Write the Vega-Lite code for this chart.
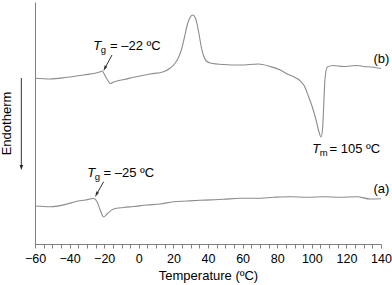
{
  "$schema": "https://vega.github.io/schema/vega-lite/v6.json",
  "width": 346,
  "height": 242,
  "autosize": {"type": "none"},
  "padding": {"left": 35, "top": 2, "right": 11, "bottom": 41},
  "config": {"view": {"stroke": null}, "font": "Liberation Sans", "axis": {"grid": false}},
  "resolve": {"axis": {"x": "independent", "y": "independent"}},
  "datasets": {
    "curves": [
      {"curve": "b", "T": -60, "v": 165.7}, {"curve": "b", "T": -51.2, "v": 165}, {"curve": "b", "T": -41.5, "v": 166.7},
      {"curve": "b", "T": -31.9, "v": 169}, {"curve": "b", "T": -22.3, "v": 172.3}, {"curve": "b", "T": -21.3, "v": 173},
      {"curve": "b", "T": -19.4, "v": 168}, {"curve": "b", "T": -17.9, "v": 163.5}, {"curve": "b", "T": -16.5, "v": 160.5},
      {"curve": "b", "T": -14.6, "v": 162}, {"curve": "b", "T": -12.6, "v": 163}, {"curve": "b", "T": -8.5, "v": 164.5},
      {"curve": "b", "T": -3, "v": 166.7}, {"curve": "b", "T": 6.6, "v": 170}, {"curve": "b", "T": 14.3, "v": 172.3},
      {"curve": "b", "T": 18.2, "v": 176}, {"curve": "b", "T": 21.1, "v": 181}, {"curve": "b", "T": 22.8, "v": 186},
      {"curve": "b", "T": 24.6, "v": 194}, {"curve": "b", "T": 26.3, "v": 206}, {"curve": "b", "T": 28, "v": 219},
      {"curve": "b", "T": 29.8, "v": 227}, {"curve": "b", "T": 31.2, "v": 229}, {"curve": "b", "T": 32.7, "v": 226},
      {"curve": "b", "T": 33.8, "v": 219}, {"curve": "b", "T": 35, "v": 208}, {"curve": "b", "T": 36.1, "v": 197},
      {"curve": "b", "T": 37.3, "v": 189}, {"curve": "b", "T": 39, "v": 183}, {"curve": "b", "T": 41.3, "v": 181},
      {"curve": "b", "T": 48.8, "v": 179.5}, {"curve": "b", "T": 58.7, "v": 179}, {"curve": "b", "T": 69.1, "v": 180},
      {"curve": "b", "T": 76, "v": 177.5}, {"curve": "b", "T": 81.8, "v": 174}, {"curve": "b", "T": 85.8, "v": 170},
      {"curve": "b", "T": 89.3, "v": 167.5}, {"curve": "b", "T": 92.8, "v": 164}, {"curve": "b", "T": 95.7, "v": 158},
      {"curve": "b", "T": 98, "v": 148}, {"curve": "b", "T": 100.3, "v": 137}, {"curve": "b", "T": 102.3, "v": 125},
      {"curve": "b", "T": 104, "v": 113}, {"curve": "b", "T": 105.3, "v": 107}, {"curve": "b", "T": 106.2, "v": 115},
      {"curve": "b", "T": 106.9, "v": 139}, {"curve": "b", "T": 107.5, "v": 162}, {"curve": "b", "T": 108.1, "v": 172},
      {"curve": "b", "T": 109, "v": 177}, {"curve": "b", "T": 112.4, "v": 178.5}, {"curve": "b", "T": 118.2, "v": 177.5},
      {"curve": "b", "T": 122.3, "v": 178}, {"curve": "b", "T": 126.3, "v": 178.5}, {"curve": "b", "T": 129.8, "v": 177.5},
      {"curve": "b", "T": 133.8, "v": 177}, {"curve": "b", "T": 136.7, "v": 176.5}, {"curve": "b", "T": 140, "v": 175.5},
      {"curve": "a", "T": -60, "v": 38}, {"curve": "a", "T": -51.2, "v": 37.3}, {"curve": "a", "T": -41.5, "v": 40},
      {"curve": "a", "T": -36.7, "v": 42.3}, {"curve": "a", "T": -30.9, "v": 44}, {"curve": "a", "T": -26.1, "v": 45.5},
      {"curve": "a", "T": -24.2, "v": 42.5}, {"curve": "a", "T": -22.3, "v": 34}, {"curve": "a", "T": -20.3, "v": 27},
      {"curve": "a", "T": -18.4, "v": 30}, {"curve": "a", "T": -14.6, "v": 35}, {"curve": "a", "T": -8.8, "v": 36.5},
      {"curve": "a", "T": -3, "v": 37.5}, {"curve": "a", "T": 4.7, "v": 39}, {"curve": "a", "T": 12.4, "v": 40},
      {"curve": "a", "T": 20.1, "v": 42.3}, {"curve": "a", "T": 27.9, "v": 43}, {"curve": "a", "T": 35.5, "v": 43.7},
      {"curve": "a", "T": 49, "v": 44.7}, {"curve": "a", "T": 58.7, "v": 45.7}, {"curve": "a", "T": 68.3, "v": 45.7},
      {"curve": "a", "T": 77.9, "v": 46.7}, {"curve": "a", "T": 87.6, "v": 47.3}, {"curve": "a", "T": 97.2, "v": 46.7},
      {"curve": "a", "T": 106.8, "v": 47.3}, {"curve": "a", "T": 116.5, "v": 46.7}, {"curve": "a", "T": 126.1, "v": 47.3},
      {"curve": "a", "T": 133.8, "v": 45}, {"curve": "a", "T": 140, "v": 45.3}
    ],
    "parts": [
      {"part": "sym", "T": -26.3, "v": 194, "text": "T"},
      {"part": "sub", "T": -22.0, "v": 191, "text": "g"},
      {"part": "rest", "T": -16.6, "v": 194, "text": "= –22 ºC"},
      {"part": "sym", "T": -29.8, "v": 67, "text": "T"},
      {"part": "sub", "T": -25.4, "v": 64, "text": "g"},
      {"part": "rest", "T": -20.4, "v": 67, "text": "= –25 ºC"},
      {"part": "sym", "T": 100.3, "v": 91, "text": "T"},
      {"part": "sub", "T": 104.6, "v": 88, "text": "m"},
      {"part": "rest", "T": 110.3, "v": 91, "text": "= 105 ºC"},
      {"part": "series", "T": 135.6, "v": 181.5, "text": "(b)"},
      {"part": "series", "T": 135.6, "v": 51.5, "text": "(a)"}
    ],
    "arrows": [
      {"kind": "tg", "T": -15.5, "v": 189, "T2": -19.7, "v2": 175.5},
      {"kind": "tg", "T": -20.3, "v": 62.3, "T2": -24.5, "v2": 49.5},
      {"kind": "endo", "T": -67.9, "v": 166, "T2": -67.9, "v2": 78}
    ],
    "heads": [
      {"kind": "tg", "T": -19.7, "v": 175.5},
      {"kind": "tg", "T": -24.5, "v": 49.5},
      {"kind": "endo", "T": -67.9, "v": 76.5}
    ]
  },
  "layer": [
    {
      "data": {"name": "curves"},
      "mark": {"type": "line", "stroke": "#8c8c8c", "strokeWidth": 1.1, "interpolate": "monotone"},
      "encoding": {
        "x": {
          "field": "T", "type": "quantitative",
          "scale": {"domain": [-60, 140], "nice": false, "zero": false},
          "axis": {
            "title": "Temperature (ºC)",
            "orient": "bottom",
            "values": [-60, -40, -20, 0, 20, 40, 60, 80, 100, 120, 140],
            "labelOverlap": false, "labelFlush": false,
            "tickSize": 4, "tickColor": "#808080", "domainColor": "#808080",
            "labelFontSize": 12.5, "labelColor": "#000000", "labelPadding": 4,
            "titleFontSize": 13, "titleFontWeight": "normal", "titleColor": "#000000", "titlePadding": 5
          }
        },
        "y": {
          "field": "v", "type": "quantitative",
          "scale": {"domain": [0, 242], "nice": false, "zero": false},
          "axis": {
            "title": "Endotherm", "orient": "left", "ticks": false, "labels": false, "domainColor": "#808080",
            "titleFontSize": 13, "titleFontWeight": "normal", "titleColor": "#000000", "titlePadding": 22
          }
        },
        "detail": {"field": "curve"}
      }
    },
    {
      "data": {"name": "arrows"},
      "mark": {"type": "rule", "stroke": "#333333", "strokeWidth": 1},
      "encoding": {
        "x": {
          "field": "T", "type": "quantitative",
          "axis": {
            "orient": "bottom", "title": null, "labels": false, "domain": false,
            "values": [-55, -50, -45, -35, -30, -25, -15, -10, -5, 5, 10, 15, 25, 30, 35, 45, 50, 55, 65, 70, 75, 85, 90, 95, 105, 110, 115, 125, 130, 135],
            "tickSize": 4, "tickColor": "#808080"
          }
        },
        "y": {"field": "v", "type": "quantitative", "axis": null},
        "x2": {"field": "T2"},
        "y2": {"field": "v2"}
      }
    },
    {
      "data": {"name": "heads"},
      "transform": [{"filter": "datum.kind === 'tg'"}],
      "mark": {"type": "point", "shape": "M0,1L-0.55,-1L0.55,-1Z", "filled": true, "color": "#333333", "size": 30, "angle": 28, "opacity": 1},
      "encoding": {
        "x": {"field": "T", "type": "quantitative", "axis": null},
        "y": {"field": "v", "type": "quantitative", "axis": null}
      }
    },
    {
      "data": {"name": "heads"},
      "transform": [{"filter": "datum.kind === 'endo'"}],
      "mark": {"type": "point", "shape": "M0,1L-0.7,-1L0.7,-1Z", "filled": true, "color": "#222222", "size": 25, "opacity": 1},
      "encoding": {
        "x": {"field": "T", "type": "quantitative", "axis": null},
        "y": {"field": "v", "type": "quantitative", "axis": null}
      }
    },
    {
      "data": {"name": "parts"},
      "transform": [{"filter": "datum.part === 'sym'"}],
      "mark": {"type": "text", "fontSize": 13, "fontStyle": "italic", "align": "left", "baseline": "alphabetic", "color": "#000000"},
      "encoding": {
        "x": {"field": "T", "type": "quantitative", "axis": null},
        "y": {"field": "v", "type": "quantitative", "axis": null},
        "text": {"field": "text"}
      }
    },
    {
      "data": {"name": "parts"},
      "transform": [{"filter": "datum.part === 'sub'"}],
      "mark": {"type": "text", "fontSize": 9.5, "align": "left", "baseline": "alphabetic", "color": "#000000"},
      "encoding": {
        "x": {"field": "T", "type": "quantitative", "axis": null},
        "y": {"field": "v", "type": "quantitative", "axis": null},
        "text": {"field": "text"}
      }
    },
    {
      "data": {"name": "parts"},
      "transform": [{"filter": "datum.part === 'rest' || datum.part === 'series'"}],
      "mark": {"type": "text", "fontSize": 13, "align": "left", "baseline": "alphabetic", "color": "#000000"},
      "encoding": {
        "x": {"field": "T", "type": "quantitative", "axis": null},
        "y": {"field": "v", "type": "quantitative", "axis": null},
        "text": {"field": "text"}
      }
    }
  ]
}
